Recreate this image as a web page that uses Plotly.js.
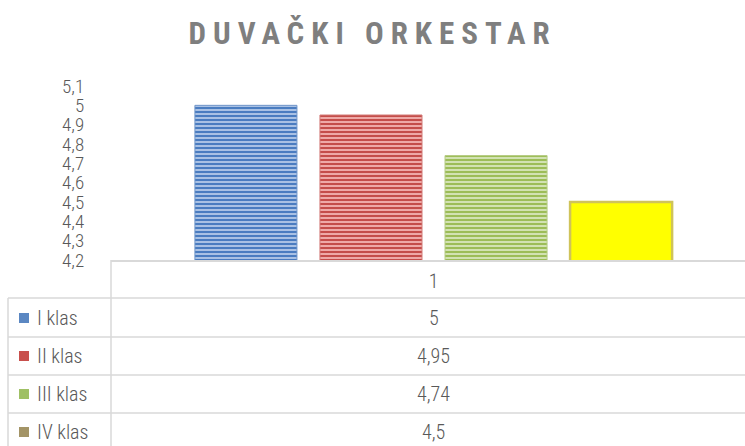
<!DOCTYPE html>
<html>
<head>
<meta charset="utf-8">
<script src="https://cdn.plot.ly/plotly-3.0.1.min.js"></script>
<style>
  html, body { margin: 0; padding: 0; background: #fff; }
  #chart { width: 745px; height: 446px; }
  .gtitle { letter-spacing: 7px; }
</style>
</head>
<body>
<div id="chart"></div>
<script>
// ---- data ----
const categories = ['1'];
const seriesNames = ['I klas', 'II klas', 'III klas', 'IV klas'];
const values = [5, 4.95, 4.74, 4.5];
const chartTitle = 'DUVAČKI ORKESTAR';

// ---- styles ----
const FONT = '"Roboto Condensed", "Liberation Sans Narrow", "Open Sans", sans-serif';
const TXT = '#595959';
const LINE = '#d9d9d9';
const barStyles = [
  { bg: '#b3c9e8', fg: '#4a7cc0', line: '#6f95c8', pattern: true },
  { bg: '#f3b3b1', fg: '#c44d4a', line: '#d27a77', pattern: true },
  { bg: '#d8e7bc', fg: '#9cbd57', line: '#b5cc84', pattern: true },
  { bg: '#ffff00', fg: '#ffff00', line: '#cfc35a', pattern: false }
];
const legendColors = ['#5b87c2', '#c8504d', '#9fc064', '#a39466'];

// ---- geometry (pixels) ----
const W = 745, H = 446;
const plotL = 111, plotR = 745, plotT = 86, plotB = 260;
const pw = plotR - plotL, ph = plotB - plotT;
const px = p => (p - plotL) / pw;          // pixel x -> paper x
const py = p => (plotB - p) / ph;          // pixel y -> paper y
const rowLines = [298, 337, 375, 413];
const rowY = [318, 356, 394, 432];
const fmt = v => String(v).replace('.', ',');

const traces = seriesNames.map((name, i) => {
  const s = barStyles[i];
  const marker = { color: s.bg, line: { color: s.line, width: i === 3 ? 2.5 : 1 } };
  if (s.pattern) {
    marker.pattern = { shape: '-', bgcolor: s.bg, fgcolor: s.fg, size: 4, solidity: 0.55, fillmode: 'replace' };
  }
  return {
    type: 'bar',
    name: name,
    x: categories,
    y: [values[i]],
    marker: marker,
    hoverinfo: 'skip'
  };
});

const shapes = [];
// vertical separator under the plot
shapes.push({ type: 'line', xref: 'paper', yref: 'paper', x0: 0, x1: 0, y0: py(plotB), y1: py(H + 2), line: { color: LINE, width: 1.5 } });
// left border of legend column
shapes.push({ type: 'line', xref: 'paper', yref: 'paper', x0: px(8), x1: px(8), y0: py(rowLines[0]), y1: py(H + 2), line: { color: LINE, width: 1.5 } });
// horizontal row lines
rowLines.forEach(r => {
  shapes.push({ type: 'line', xref: 'paper', yref: 'paper', x0: px(8), x1: px(W + 2), y0: py(r), y1: py(r), line: { color: LINE, width: 1.5 } });
});
// legend keys
seriesNames.forEach((n, i) => {
  shapes.push({ type: 'rect', xref: 'paper', yref: 'paper', x0: px(19), x1: px(29), y0: py(rowY[i] - 5), y1: py(rowY[i] + 5), fillcolor: legendColors[i], line: { width: 0 } });
});

const annotations = [];
const catIndex = categories.indexOf('1');
seriesNames.forEach((n, i) => {
  annotations.push({ xref: 'paper', yref: 'paper', x: px(35), y: py(rowY[i]), xanchor: 'left', yanchor: 'middle', text: n, showarrow: false, font: { family: FONT, size: 20, color: TXT, weight: 300 } });
  annotations.push({ xref: 'x', yref: 'paper', x: catIndex, y: py(rowY[i]), xanchor: 'center', yanchor: 'middle', text: fmt(values[i]), showarrow: false, font: { family: FONT, size: 20, color: TXT, weight: 300 } });
});

const layout = {
  width: W, height: H,
  margin: { l: plotL, r: W - plotR, t: plotT, b: H - plotB, pad: 0 },
  paper_bgcolor: '#ffffff', plot_bgcolor: '#ffffff',
  separators: ', ',
  showlegend: false,
  barmode: 'group',
  bargap: 0.211,
  bargroupgap: 0.184,
  title: {
    text: chartTitle,
    font: { family: FONT, size: 31, color: '#7f7f7f', weight: 'bold' },
    x: 0.5, xref: 'container', xanchor: 'center',
    y: 1 - 33 / H, yref: 'container', yanchor: 'middle'
  },
  xaxis: {
    type: 'category',
    range: [-0.5087, 0.4913],
    showline: true, linecolor: LINE, linewidth: 2,
    showgrid: false, zeroline: false,
    ticks: '', ticklabelstandoff: 2,
    tickfont: { family: FONT, size: 20, color: TXT, weight: 300 },
    fixedrange: true
  },
  yaxis: {
    range: [4.2, 5.1],
    tick0: 4.2, dtick: 0.1,
    showline: false, showgrid: false, zeroline: false,
    ticks: 'outside', ticklen: 22, tickcolor: 'rgba(0,0,0,0)',
    tickfont: { family: FONT, size: 19, color: TXT, weight: 300 },
    fixedrange: true
  },
  shapes: shapes,
  annotations: annotations
};

Plotly.newPlot('chart', traces, layout, { staticPlot: true, displayModeBar: false });
</script>
</body>
</html>
